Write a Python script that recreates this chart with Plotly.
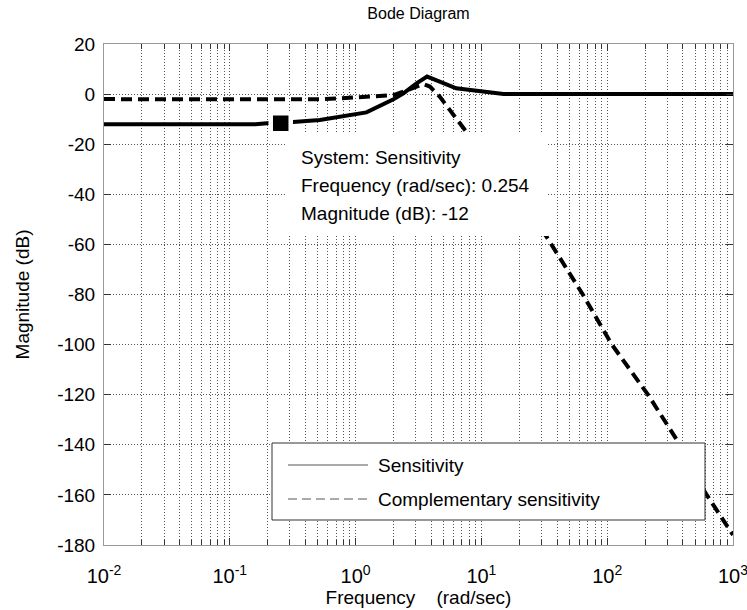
import plotly.graph_objects as go

# ---- data ----
sens_freq = [0.01, 0.1, 0.16, 0.22, 0.3, 0.52, 1.22, 2.0, 2.4, 3.05, 3.7, 4.66, 6.3, 8.2, 11.6, 15, 100, 1000]
sens_db = [-12, -12, -12, -11.4, -11.2, -10.3, -7.3, -2.1, 0.3, 4.3, 7.0, 5.0, 2.3, 1.6, 0.55, 0, 0, 0]

comp_freq = [0.01, 0.52, 1.3, 2.0, 2.4, 3.05, 3.45, 3.9, 4.66, 5.6, 7.2, 10, 20, 33, 64, 109, 211, 379, 600, 1000]
comp_db = [-2, -2.1, -1.0, -0.4, 1.0, 3.0, 4.0, 3.0, -1.0, -6.3, -13.7, -23, -42.5, -57, -80, -100, -120, -140, -159, -176]

tip_freq = [0.254]
tip_db = [-11.6]

x_tickvals = [0.01, 0.1, 1, 10, 100, 1000]
x_ticktext = ["10<sup>-2</sup>", "10<sup>-1</sup>", "10<sup>0</sup>", "10<sup>1</sup>", "10<sup>2</sup>", "10<sup>3</sup>"]
y_tickvals = [20, 0, -20, -40, -60, -80, -100, -120, -140, -160, -180]
y_ticktext = ["20", "0", "-20", "-40", "-60", "-80", "-100", "-120", "-140", "-160", "-180"]

tip_lines = ["System: Sensitivity", "Frequency (rad/sec): 0.254", "Magnitude (dB): -12"]
legend_names = ["Sensitivity", "Complementary sensitivity"]

FONT = "Liberation Sans, Arial, Helvetica, sans-serif"

fig = go.Figure()
fig.add_trace(go.Scatter(x=comp_freq, y=comp_db, mode="lines", name=legend_names[1],
                         line=dict(color="black", width=4, dash="11px,6px"), showlegend=False))
fig.add_trace(go.Scatter(x=sens_freq, y=sens_db, mode="lines", name=legend_names[0],
                         line=dict(color="black", width=4), showlegend=False))
fig.add_trace(go.Scatter(x=tip_freq, y=tip_db, mode="markers", showlegend=False,
                         marker=dict(symbol="square", size=20, color="black",
                                     line=dict(color="white", width=4.5))))

L, R, T, B = 104, 14, 44, 65
W, H = 747, 610
pw, ph = W - L - R, H - T - B

def px(x):
    return (x - L) / pw

def py(y):
    return (H - B - y) / ph

shapes = []
annotations = []
# data tip box
shapes.append(dict(type="rect", xref="paper", yref="paper", x0=px(287), x1=px(548), y0=py(236), y1=py(134),
                   fillcolor="white", line=dict(width=0), layer="above"))
for i, t in enumerate(tip_lines):
    annotations.append(dict(text=t, xref="paper", yref="paper", x=px(299), y=py(157 + 28 * i),
                            xanchor="left", yanchor="middle", showarrow=False,
                            font=dict(family=FONT, size=19, color="black")))
# legend box
shapes.append(dict(type="rect", xref="paper", yref="paper", x0=px(272), x1=px(705), y0=py(520), y1=py(443),
                   fillcolor="white", line=dict(color="#333333", width=1), layer="above"))
shapes.append(dict(type="line", xref="paper", yref="paper", x0=px(288), x1=px(368), y0=py(465), y1=py(465),
                   line=dict(color="#555555", width=1), layer="above"))
shapes.append(dict(type="line", xref="paper", yref="paper", x0=px(288), x1=px(368), y0=py(499), y1=py(499),
                   line=dict(color="#555555", width=1, dash="9px,5px"), layer="above"))
for i, t in enumerate(legend_names):
    annotations.append(dict(text=t, xref="paper", yref="paper", x=px(376), y=py(465 + 34 * i),
                            xanchor="left", yanchor="middle", showarrow=False,
                            font=dict(family=FONT, size=19, color="black")))

fig.update_layout(
    width=W, height=H,
    margin=dict(l=L, r=R, t=T, b=B, autoexpand=False),
    paper_bgcolor="white", plot_bgcolor="white",
    font=dict(family=FONT, size=19, color="black"),
    title=dict(text="Bode Diagram", x=418.5 / W, xanchor="center",
               yref="container", y=1 - 13 / H, yanchor="middle",
               font=dict(family=FONT, size=16, color="black")),
    shapes=shapes, annotations=annotations,
    showlegend=False,
)
fig.update_xaxes(
    type="log", range=[-2, 3], tickvals=x_tickvals, ticktext=x_ticktext,
    automargin=False,
    ticks="inside", ticklen=7, tickcolor="#333333",
    showline=True, linecolor="#999999", linewidth=1, mirror="ticks",
    showgrid=True, gridcolor="#555555", gridwidth=1, griddash="1px,2px",
    minor=dict(dtick="D1", ticks="inside", ticklen=5, tickcolor="#333333",
               showgrid=True, gridcolor="#555555", gridwidth=1, griddash="1px,2px"),
    zeroline=False,
    ticklabeloverflow="allow",
    ticklabelstandoff=13,
    tickfont=dict(family=FONT, size=20),
    title=dict(text="Frequency\u00a0\u00a0\u00a0\u00a0(rad/sec)", font=dict(family=FONT, size=19), standoff=2),
)
fig.update_yaxes(
    range=[-180, 20], tickvals=y_tickvals, ticktext=y_ticktext,
    automargin=False,
    ticks="inside", ticklen=7, tickcolor="#333333",
    showline=True, linecolor="#999999", linewidth=1, mirror="ticks",
    showgrid=True, gridcolor="#555555", gridwidth=1, griddash="1px,2px",
    zeroline=False,
    tickfont=dict(family=FONT, size=19),
    ticklabelstandoff=4,
    title=dict(text="Magnitude (dB)", font=dict(family=FONT, size=19), standoff=22),
)

fig.write_html("out.html")
